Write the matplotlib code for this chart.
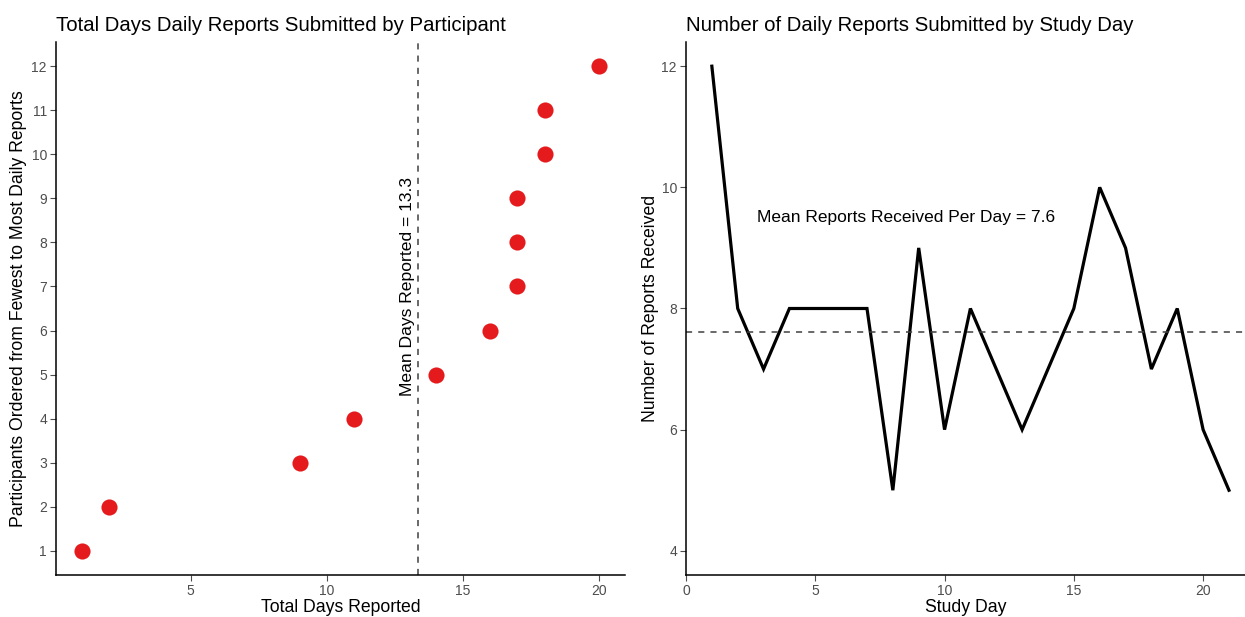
import numpy as np
import matplotlib.pyplot as plt

plt.rcParams['font.family'] = ['Liberation Sans', 'DejaVu Sans']

# participant totals (ordered fewest to most)
participant_rank = [1, 2, 3, 4, 5, 6, 7, 8, 9, 10, 11, 12]
days_reported = [1, 2, 9, 11, 14, 16, 17, 17, 17, 18, 18, 20]

# reports received per study day
study_day = list(range(1, 22))
reports_received = [12, 8, 7, 8, 8, 8, 8, 5, 9, 6, 8, 7, 6, 7, 8, 10, 9, 7, 8, 6, 5]

mean_days = np.mean(days_reported)
mean_reports = np.mean(reports_received)

tick_grey = '#4D4D4D'


def style_axis(ax):
    for side in ['top', 'right']:
        ax.spines[side].set_visible(False)
    for side in ['left', 'bottom']:
        ax.spines[side].set_linewidth(1.1)
    ax.tick_params(axis='both', colors=tick_grey, labelsize=10, length=4, width=0.8,
                   direction='out', pad=2.5)


fig = plt.figure(figsize=(12.45, 6.17), dpi=100)
ax1 = fig.add_axes([0.045, 0.068, 0.457, 0.864])
ax2 = fig.add_axes([0.551, 0.068, 0.449, 0.864])

# left panel
ax1.scatter(days_reported, participant_rank, s=135, color='#E41A1C', zorder=3, linewidths=0)
ax1.axvline(mean_days, color='#404040', linestyle=(0, (4, 4)), linewidth=1.1)
ax1.text(mean_days - 0.08, 7.0, f'Mean Days Reported = {mean_days:.1f}', rotation=90,
         ha='right', va='center', fontsize=12.6)
ax1.set_xlim(0.05, 20.95)
ax1.set_ylim(0.45, 12.55)
ax1.set_xticks([5, 10, 15, 20])
ax1.set_yticks(participant_rank)
ax1.set_xlabel('Total Days Reported', fontsize=12.7, labelpad=1)
ax1.set_ylabel('Participants Ordered from Fewest to Most Daily Reports', fontsize=12.7, labelpad=3)
ax1.set_title('Total Days Daily Reports Submitted by Participant', fontsize=14.7, loc='left', pad=8)
style_axis(ax1)

# right panel
ax2.plot(study_day, reports_received, color='black', linewidth=2.3, solid_joinstyle='miter')
ax2.axhline(mean_reports, color='#404040', linestyle=(0, (4, 4)), linewidth=1.1)
ax2.text(8.5, 9.5, f'Mean Reports Received Per Day = {mean_reports:.1f}', ha='center', va='center', fontsize=12.5)
ax2.set_xlim(0, 21.62)
ax2.set_ylim(3.6, 12.4)
ax2.set_xticks([0, 5, 10, 15, 20])
ax2.set_yticks([4, 6, 8, 10, 12])
ax2.set_xlabel('Study Day', fontsize=12.7, labelpad=1)
ax2.set_ylabel('Number of Reports Received', fontsize=12.7, labelpad=2)
ax2.set_title('Number of Daily Reports Submitted by Study Day', fontsize=14.7, loc='left', pad=8)
style_axis(ax2)

fig.savefig('out.png', dpi=100)
